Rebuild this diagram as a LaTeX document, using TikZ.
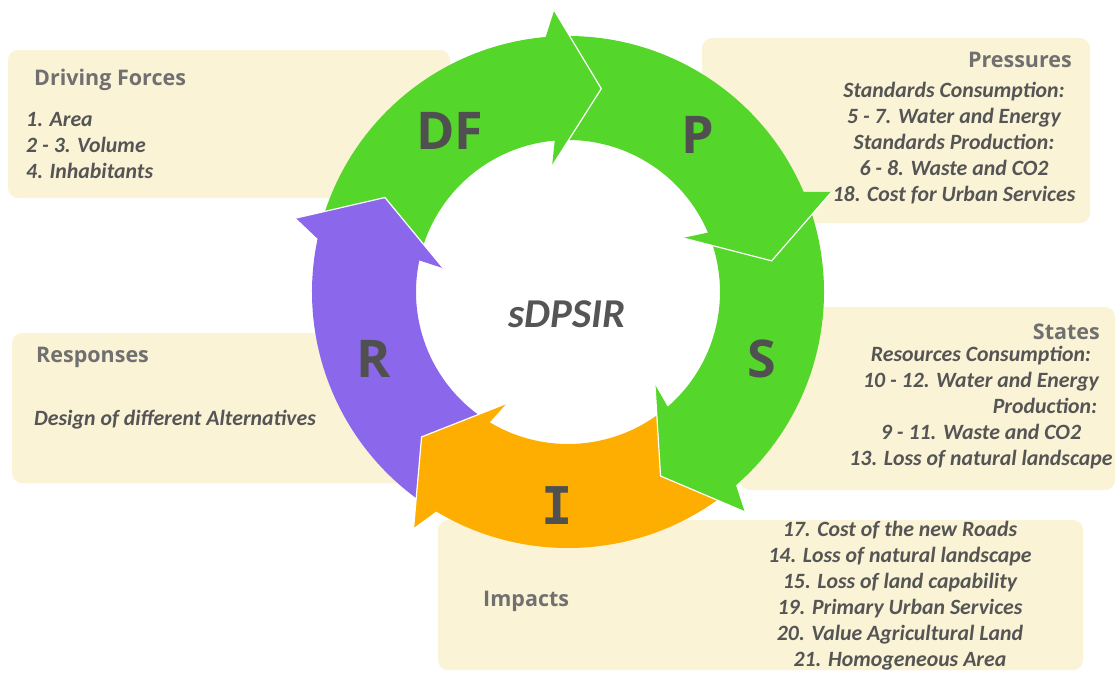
\documentclass[tikz,border=0pt]{standalone}
\usepackage{fontspec}
\setmainfont{Carlito}
\newfontfamily\bigfont{Open Sans}
\newfontfamily\slabfont{DejaVu Sans Mono}
\usetikzlibrary{positioning}
\definecolor{ringgreen}{RGB}{84,214,42}
\definecolor{ringpurple}{RGB}{139,104,235}
\definecolor{ringorange}{RGB}{253,174,0}
\definecolor{boxcream}{RGB}{250,243,214}
\definecolor{txtgray}{RGB}{85,85,85}
\definecolor{ttlgray}{RGB}{112,112,112}
\definecolor{biggray}{RGB}{80,80,80}

\begin{document}
\begin{tikzpicture}[
    x = 1pt, y = 1pt,
    box/.style = {fill=boxcream, rounded corners=10pt},
    title/.style = {font=\bigfont\fontsize{21.5}{26}\selectfont\bfseries, text=ttlgray, inner sep=0pt},
    items/.style = {font=\fontsize{21.8}{26}\selectfont\bfseries\itshape, text=txtgray, inner sep=0pt},
    letter/.style = {font=\bigfont\fontsize{52}{52}\selectfont\bfseries, text=biggray, inner sep=0pt},
]
    \useasboundingbox (0,0) rectangle (1116,-673);
    % Cadres de texte
    \fill[box] (8,-50) rectangle (450,-198);
    \fill[box] (702,-38) rectangle (1090,-223);
    \fill[box] (740,-307) rectangle (1115,-490);
    \fill[box] (12,-333) rectangle (420,-483);
    \fill[box] (438,-520) rectangle (1083,-670);
    % Anneau : une flèche par étape (couleur/queue/base de la pointe)
    \begin{scope}[shift={(568,-292)}]
        \foreach \col/\tail/\base in {ringpurple/-121/-193, ringorange/-49/-121, ringgreen/23/-49, ringgreen/95/23, ringgreen/167/95} {
            \fill[\col] (\tail:256pt) arc[start angle=\tail, end angle=\base, radius=256pt]
                -- (\base-2.2:282pt) -- (\base-14.3:206pt) -- (\base+2.2:127pt)
                -- (\base:152pt) arc[start angle=\base, end angle=\tail, radius=152pt] -- cycle;
            \draw[white, line width=1.2pt, line join=round] (\base-2.2:282pt) -- (\base-14.3:206pt) -- (\base+2.2:127pt);
        }
        % pointe de R par-dessus la queue de DF
        \fill[ringpurple] (168:256pt) -- (164.8:282pt) -- (152.7:206pt) -- (169.2:127pt) -- (168:152pt) -- cycle;
        \draw[white, line width=1.2pt, line join=round] (164.8:282pt) -- (152.7:206pt) -- (169.2:127pt);
    \end{scope}
    \node[letter] (lblDF) at (450,-131) {DF};
    \node[letter] (lblP) at (698,-135) {P};
    \node[letter] (lblS) at (762,-359) {S};
    \node[letter, font=\slabfont\fontsize{52}{52}\selectfont\bfseries] (lblI) at (557,-506) {I};
    \node[letter] (lblR) at (374,-359) {R};
    \node[font=\fontsize{41}{41}\selectfont\bfseries\itshape, text=txtgray, inner sep=0pt] (center) at (567,-314) {sDPSIR};
    % Textes des cadres
    \node[title, anchor=west] (ttlDF) at (34,-80) {Driving Forces};
    \node[items, anchor=west, align=left] (itmDF) at (26,-146) {1. Area\\2 - 3. Volume\\4. Inhabitants};
    \node[title, anchor=east] (ttlP) at (1072,-60) {Pressures};
    \node[items, align=center] (itmP) at (954,-143) {Standards Consumption:\\5 - 7. Water and Energy\\Standards Production:\\6 - 8. Waste and CO2\\18. Cost for Urban Services};
    \node[title, anchor=east] (ttlS) at (1100,-332) {States};
    \node[items, align=center] (itmS) at (981,-408) {Resources Consumption:\\10 - 12. Water and Energy\\\hspace*{128pt}Production:\\9 - 11. Waste and CO2\\13. Loss of natural landscape};
    \node[title, anchor=west] (ttlR) at (36,-357) {Responses};
    \node[items, anchor=west] (itmR) at (34,-420) {Design of different Alternatives};
    \node[title, anchor=west] (ttlI) at (483,-601) {Impacts};
    \node[items, align=center] (itmI) at (900,-596) {17. Cost of the new Roads\\14. Loss of natural landscape\\15. Loss of land capability\\19. Primary Urban Services\\20. Value Agricultural Land\\21. Homogeneous Area};
\end{tikzpicture}
\end{document}
